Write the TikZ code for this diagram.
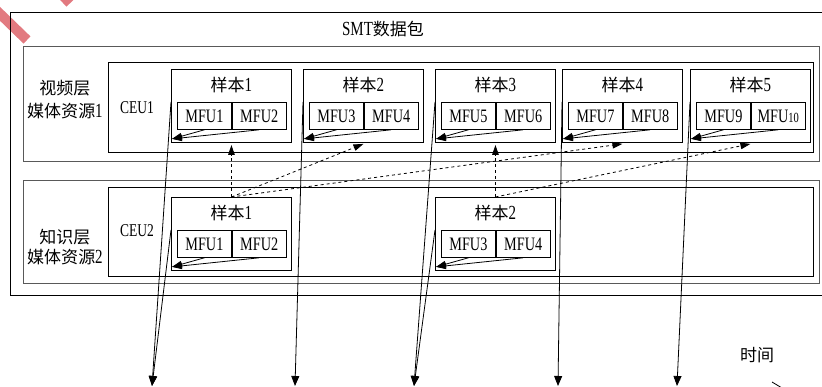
\documentclass[tikz,border=0pt]{standalone}
\usepackage{fontspec}
\setmainfont[FakeStretch=0.75]{Liberation Serif}
\newfontfamily\cjkfont[Scale=0.85]{Noto Sans CJK SC}
\newcommand{\hanzi}[1]{{\cjkfont #1}}
\definecolor{wmpink}{RGB}{226,122,128}
\usetikzlibrary{arrows.meta,positioning}

\begin{document}
\begin{tikzpicture}[
  x=1pt, y=-1pt,
  box/.style={draw, inner sep=0pt, anchor=north west},
  layer/.style={box, line width=1.4pt, draw=black!65},
  ceu/.style={box, line width=0.8pt},
  sample/.style={box, line width=0.9pt, minimum width=120pt, minimum height=73pt},
  mfu/.style={draw, line width=0.8pt, minimum width=54pt, minimum height=27pt, inner sep=0pt, font=\fontsize{19}{20}\selectfont},
  lbl/.style={inner sep=0pt, align=center, font=\fontsize{20}{23}\selectfont},
  link/.style={-{Triangle[length=10pt,width=6.5pt]}, line width=0.8pt},
  sync/.style={link, dashed},
  track/.style={-{Triangle[length=10pt,width=8pt]}, line width=0.8pt},
  wm/.style={line width=10pt, draw=wmpink}
]
\useasboundingbox (0,0) rectangle (822,387);
\draw[wm] (-5,9) -- (27,40);
\draw[wm] (63,3) -- (80,-13);
\node[box, line width=1pt, minimum width=812pt, minimum height=283pt] (smt) at (9.5,12) {};
\node[lbl] (title) at (383,29) {SMT\hanzi{数据包}};
\node[layer, minimum width=796pt, minimum height=115pt] (vlayer) at (23,46) {};
\node[lbl] (vname) at (65,100) {\hanzi{视频层}\\\hanzi{媒体资源}1};
\node[ceu, minimum width=705pt, minimum height=90pt] (ceu1) at (108,62) {};
\node[lbl, font=\fontsize{18}{20}\selectfont] (ceu1t) at (137,108) {CEU1};
\node[sample] (v1) at (171,69) {};
\node[lbl] (v1t) at ([yshift=-16pt]v1.north) {\hanzi{样本}1};
\node[mfu, anchor=north west] (v1a) at ([xshift=6pt,yshift=-33pt]v1.north west) {MFU1};
\node[mfu, right=0pt of v1a] (v1b) {MFU2};
\node[sample] (v2) at (303,69) {};
\node[lbl] (v2t) at ([yshift=-16pt]v2.north) {\hanzi{样本}2};
\node[mfu, anchor=north west] (v2a) at ([xshift=6pt,yshift=-33pt]v2.north west) {MFU3};
\node[mfu, right=0pt of v2a] (v2b) {MFU4};
\node[sample] (v3) at (435,69) {};
\node[lbl] (v3t) at ([yshift=-16pt]v3.north) {\hanzi{样本}3};
\node[mfu, anchor=north west] (v3a) at ([xshift=6pt,yshift=-33pt]v3.north west) {MFU5};
\node[mfu, right=0pt of v3a] (v3b) {MFU6};
\node[sample] (v4) at (562,69) {};
\node[lbl] (v4t) at ([yshift=-16pt]v4.north) {\hanzi{样本}4};
\node[mfu, anchor=north west] (v4a) at ([xshift=6pt,yshift=-33pt]v4.north west) {MFU7};
\node[mfu, right=0pt of v4a] (v4b) {MFU8};
\node[sample] (v5) at (690,69) {};
\node[lbl] (v5t) at ([yshift=-16pt]v5.north) {\hanzi{样本}5};
\node[mfu, anchor=north west] (v5a) at ([xshift=6pt,yshift=-33pt]v5.north west) {MFU9};
\node[mfu, right=0pt of v5a] (v5b) {MFU{\fontsize{14}{14}\selectfont 10}};
\node[layer, minimum width=796pt, minimum height=103pt] (klayer) at (23,180) {};
\node[lbl, font=\fontsize{20}{20}\selectfont] (kname) at (65,247) {\hanzi{知识层}\\\hanzi{媒体资源}2};
\node[ceu, minimum width=705pt, minimum height=89pt] (ceu2) at (108,187) {};
\node[lbl, font=\fontsize{18}{20}\selectfont] (ceu2t) at (137,231) {CEU2};
\node[sample] (k1) at (171,197) {};
\node[lbl] (k1t) at ([yshift=-16pt]k1.north) {\hanzi{样本}1};
\node[mfu, anchor=north west] (k1a) at ([xshift=6pt,yshift=-33pt]k1.north west) {MFU1};
\node[mfu, right=0pt of k1a] (k1b) {MFU2};
\node[sample] (k2) at (435,197) {};
\node[lbl] (k2t) at ([yshift=-16pt]k2.north) {\hanzi{样本}2};
\node[mfu, anchor=north west] (k2a) at ([xshift=6pt,yshift=-33pt]k2.north west) {MFU3};
\node[mfu, right=0pt of k2a] (k2b) {MFU4};
\node[lbl] (time) at (757,355) {\hanzi{时间}};
\coordinate (v1c) at ([xshift=1pt,yshift=4pt]v1.south west);
\coordinate (v2c) at ([xshift=1pt,yshift=4pt]v2.south west);
\coordinate (v3c) at ([xshift=1pt,yshift=4pt]v3.south west);
\coordinate (v4c) at ([xshift=1pt,yshift=4pt]v4.south west);
\coordinate (v5c) at ([xshift=1pt,yshift=4pt]v5.south west);
\coordinate (k1c) at ([xshift=1pt,yshift=4pt]k1.south west);
\coordinate (k2c) at ([xshift=1pt,yshift=4pt]k2.south west);
\coordinate (t1) at (152,386);
\coordinate (t2) at (295,386);
\coordinate (t3) at (414,386);
\coordinate (t4) at (558,386);
\coordinate (t5) at (677,386);
\coordinate (axis0) at (772,382);
\coordinate (axis1) at (782,388);
\draw[link] (v1a.south) -- (v1c);
\draw[link] (v1b.south) -- (v1c);
\draw[link] (v2a.south) -- (v2c);
\draw[link] (v2b.south) -- (v2c);
\draw[link] (v3a.south) -- (v3c);
\draw[link] (v3b.south) -- (v3c);
\draw[link] (v4a.south) -- (v4c);
\draw[link] (v4b.south) -- (v4c);
\draw[link] (v5a.south) -- (v5c);
\draw[link] (v5b.south) -- (v5c);
\draw[link] (k1a.south) -- (k1c);
\draw[link] (k1b.south) -- (k1c);
\draw[link] (k2a.south) -- (k2c);
\draw[link] (k2b.south) -- (k2c);
\draw[sync] (k1.north) -- ([yshift=-2pt]v1.south);
\draw[sync] (k1.north) -- ([yshift=-1pt]v2.south);
\draw[sync] (k1.north) -- ([yshift=-1pt]v4.south);
\draw[sync] (k2.north) -- ([yshift=-2pt]v3.south);
\draw[sync] (k2.north) -- ([yshift=-1pt]v5.south);
\draw[track] (v1.west |- v1a.north) -- (t1);
\draw[track] (k1.west |- k1a.north) -- (t1);
\draw[track] (v2.west |- v2a.north) -- (t2);
\draw[track] (v3.west |- v3a.north) -- (t3);
\draw[track] (k2.west |- k2a.north) -- (t3);
\draw[track] (v4.west |- v4a.north) -- (t4);
\draw[track] (v5.west |- v5a.north) -- (t5);
\draw[line width=0.8pt] (axis0) -- (axis1);
\end{tikzpicture}
\end{document}
